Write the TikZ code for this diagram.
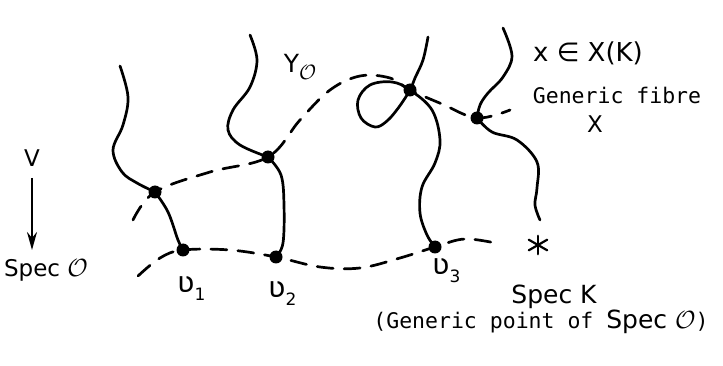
\documentclass[tikz,border=0pt]{standalone}
\usepackage{fontspec}
\setsansfont{DejaVu Sans}
\setmonofont{DejaVu Sans Mono}
\usetikzlibrary{arrows.meta}
\begin{document}
\begin{tikzpicture}[x=1pt,y=-1pt,
  curve/.style={line width=2.7pt, line cap=round, line join=round},
  dashcurve/.style={curve, dash pattern=on 16pt off 11pt},
  dot/.style={circle, fill, inner sep=0pt, minimum size=13pt},
  lab/.style={font=\sffamily\fontsize{23}{27}\selectfont, inner sep=0pt},
  mono/.style={font=\ttfamily\fontsize{21.5}{26}\selectfont, inner sep=0pt},
  vlab/.style={font=\sffamily\fontsize{29}{32}\selectfont, inner sep=0pt, anchor=base west}]
\useasboundingbox (0,0) rectangle (723,366);
\fill[white] (0,0) rectangle (723,366);

% points on the curves
\coordinate (d1) at (155,192);
\coordinate (d2) at (268,157);
\coordinate (d3) at (410,90);
\coordinate (d4) at (477,118);
\coordinate (p1) at (183,250);
\coordinate (p2) at (276,257);
\coordinate (p3) at (435,247);
\coordinate (f1) at (120,66);
\coordinate (f2) at (250,35);
\coordinate (f3) at (428,37);
\coordinate (f4) at (503,28);
\coordinate (f4e) at (540,220);
\coordinate (ys) at (133,220);
\coordinate (ye) at (510,110);
\coordinate (bs) at (138,276);
\coordinate (be) at (500,244);
\coordinate (va) at (32,178);
\coordinate (vb) at (32,250);

% fibre 1
\draw[curve] plot[smooth, tension=0.6] coordinates {(f1) (128,97) (123,125) (113,150) (122,172) (137,183) (d1)};
\draw[curve] plot[smooth, tension=0.6] coordinates {(d1) (168,212) (178,240) (p1)};
% fibre 2
\draw[curve] plot[smooth, tension=0.6] coordinates {(f2) (257,60) (250,87) (233,110) (228,130) (240,145) (d2)};
\draw[curve] plot[smooth, tension=0.6] coordinates {(d2) (281,175) (284,205) (283,243) (p2)};
% fibre 3 with loop
\draw[curve] plot[smooth, tension=0.6] coordinates {(f3) (423,60) (415,78) (d3) (399,107) (387,121) (375,127) (361,118) (358,100) (370,85) (392,82) (d3) (432,110) (440,140) (435,163) (422,187) (420,213) (427,235) (p3)};
% fibre 4
\draw[curve] plot[smooth, tension=0.6] coordinates {(f4) (512,56) (503,77) (488,93) (480,105) (d4)};
\draw[curve] plot[smooth, tension=0.6] coordinates {(d4) (492,132) (517,140) (537,162) (537,188) (535,205) (f4e)};

% Y_O dashed
\draw[dashcurve] plot[smooth, tension=0.6] coordinates {(ys) (d1) (210,172) (d2) (300,120) (330,90) (360,76) (390,78) (d3) (442,104) (d4) (ye)};
% base dashed
\draw[dashcurve] plot[smooth, tension=0.6] coordinates {(bs) (160,258) (p1) (230,250) (p2) (320,267) (360,268) (400,258) (p3) (465,239) (be)};

% dots
\foreach \p in {d1,d2,d3,d4,p1,p2,p3} \node[dot] (n\p) at (\p) {};

% star
\node[inner sep=0pt, minimum size=18pt] (star) at (538,245) {};
\foreach \a in {90,150,210} \draw[line width=2.2pt, line cap=round] (star.\a) -- (star.\a+180);

% arrow V
\draw[line width=2.2pt, -{Stealth[length=18pt,width=10pt]}] (va) -- (vb);
\node[lab] (V) at (32,158) {V};
\node[lab] (specO) at (46,270) {Spec $\mathcal{O}$};

% labels
\node[lab, font=\sffamily\fontsize{25}{28}\selectfont] (Y) at (300,67) {Y\raisebox{-7pt}{\fontsize{21}{22}\selectfont$\mathcal{O}$}};
\node[vlab] (l1) at (177,292) {ʋ\raisebox{-8pt}{\fontsize{17}{18}\selectfont 1}};
\node[vlab] (l2) at (268,297) {ʋ\raisebox{-8pt}{\fontsize{17}{18}\selectfont 2}};
\node[vlab] (l3) at (432,274) {ʋ\raisebox{-8pt}{\fontsize{17}{18}\selectfont 3}};
\node[lab, font=\sffamily\fontsize{26}{30}\selectfont] (xX) at (588,53) {x ∈ X(K)};
\node[mono] (gf) at (617,95) {Generic fibre};
\node[lab] (X) at (595,124) {X};
\node[lab, font=\sffamily\fontsize{25}{30}\selectfont] (specK) at (554,297) {Spec K};
\node[mono] (gp) at (541,322) {(Generic point of {\sffamily\fontsize{25}{30}\selectfont Spec $\mathcal{O}$})};
\end{tikzpicture}
\end{document}
